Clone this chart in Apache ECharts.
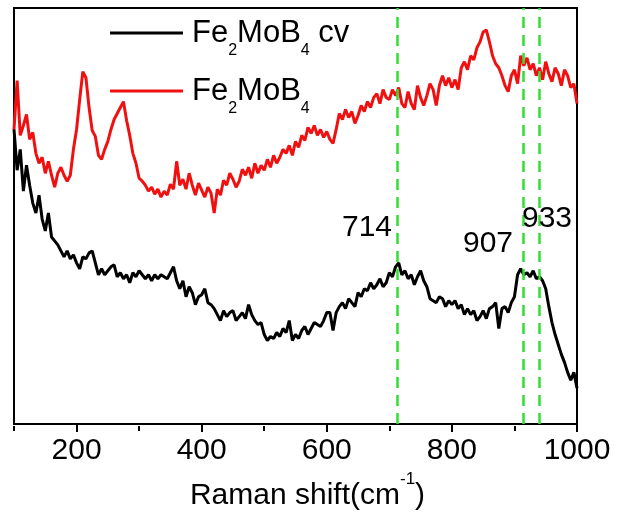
<!DOCTYPE html>
<html><head><meta charset="utf-8">
<script src="https://cdn.jsdelivr.net/npm/echarts@6/dist/echarts.min.js"></script>
<style>html,body{margin:0;padding:0;background:#fff}#c{width:617px;height:516px}</style>
</head><body><div id="c"></div>
<script>
const ramanShift = [
100,105,110,115,120,125,130,135,140,145,
150,155,160,165,170,175,180,185,190,195,
200,205,210,215,220,225,230,235,240,245,
250,255,260,265,270,275,280,285,290,295,
300,305,310,315,320,325,330,335,340,345,
350,355,360,365,370,375,380,385,390,395,
400,405,410,415,420,425,430,435,440,445,
450,455,460,465,470,475,480,485,490,495,
500,505,510,515,520,525,530,535,540,545,
550,555,560,565,570,575,580,585,590,595,
600,605,610,615,620,625,630,635,640,645,
650,655,660,665,670,675,680,685,690,695,
700,705,710,715,720,725,730,735,740,745,
750,755,760,765,770,775,780,785,790,795,
800,805,810,815,820,825,830,835,840,845,
850,855,860,865,870,875,880,885,890,895,
900,905,910,915,920,925,930,935,940,945,
950,955,960,965,970,975,980,985,990,995,
1000];
const intensityFe2MoB4 = [
296,345,290,300,311,286,293,272,262,268,
252,264,250,238,252,258,250,244,250,276,
296,326,354,348,318,295,289,270,266,276,
284,296,306,312,318,324,305,290,272,262,
247,244,240,234,238,231,236,228,234,230,
241,236,264,240,246,236,252,240,230,242,
235,228,238,232,212,236,230,245,240,252,
246,238,244,256,250,258,247,262,252,260,
255,266,258,270,262,268,276,272,280,270,
284,278,290,285,298,292,300,290,296,288,
294,286,282,296,312,306,316,308,314,302,
310,320,314,324,318,328,332,322,336,328,
326,336,330,338,322,318,334,322,316,340,
328,320,330,342,336,320,340,350,340,348,
338,346,336,358,364,356,370,366,378,384,
394,396,384,370,362,358,350,340,334,350,
356,342,370,360,368,356,362,350,358,346,
364,352,344,358,352,340,356,350,338,342,
322];
const intensityFe2MoB4cv = [
296,255,276,234,260,240,222,212,230,206,
194,212,188,184,180,174,168,174,166,170,
162,156,168,166,172,174,162,150,156,150,
154,158,160,148,152,146,150,142,152,148,
154,150,146,150,144,150,146,150,148,146,
152,158,144,136,144,128,138,132,120,128,
130,136,122,120,116,110,104,114,108,112,
114,104,108,112,106,120,110,104,100,102,
90,84,88,86,92,88,96,92,104,84,
90,86,94,98,90,96,102,100,98,104,
112,112,94,112,118,122,116,126,122,118,
132,128,136,134,142,136,140,146,138,142,
152,148,158,162,150,154,146,150,140,148,
154,144,138,126,124,122,128,126,118,124,
120,124,116,120,110,116,110,114,104,108,
114,106,116,118,122,96,116,118,112,122,
128,150,156,150,152,148,154,146,148,144,
136,118,102,90,80,70,62,52,44,52,
36];
const seriesNames = ['Fe2MoB4 cv', 'Fe2MoB4'];
const majorTicks = [200, 400, 600, 800, 1000];
const minorTicks = [100, 300, 500, 700, 900];
const peakLines = [712, 914, 939];
const peakLabels = ['714', '907', '933'];
const axisTitle = '{m|Raman shift(cm}{p|-1}{m|)}';

const FONT = '"Liberation Sans", Arial, sans-serif';
const zip = (xs, ys) => xs.map((x, i) => [x, ys[i]]);
const chart = echarts.init(document.getElementById('c'), null, {renderer: 'canvas'});
const labelPos = [[367, 228], [488, 244], [547, 219]];

chart.setOption({
  animation: false,
  backgroundColor: '#fff',
  grid: [
    {left: 14, right: 40, top: 8, bottom: 90, show: true, borderColor: '#000', borderWidth: 2, backgroundColor: 'transparent'},
    {left: 14, right: 40, top: 8, bottom: 90, show: false}
  ],
  legend: {
    data: seriesNames, orient: 'vertical', left: 110, top: 16, padding: 0,
    itemWidth: 73, itemHeight: 3, itemGap: 15, icon: 'rect',
    formatter: n => n.replace(/(\d)/g, '{s|$1}'),
    textStyle: {
      fontFamily: FONT, fontSize: 31, color: '#000', lineHeight: 34, padding: [0, 0, 0, 4],
      rich: {s: {fontFamily: FONT, fontSize: 16, color: '#000', lineHeight: 34, verticalAlign: 'top', padding: [27, 0, 0, 0]}}
    }
  },
  xAxis: [
    {
      type: 'value', gridIndex: 0, min: 100, max: 1000, position: 'bottom',
      axisLine: {lineStyle: {color: '#000', width: 2}},
      axisTick: {customValues: majorTicks, length: 8, inside: false, lineStyle: {color: '#000', width: 2}},
      axisLabel: {customValues: majorTicks, margin: 12, fontSize: 30, lineHeight: 30, fontFamily: FONT, color: '#000',
                  formatter: v => String(v)},
      splitLine: {show: false},
      name: axisTitle, nameLocation: 'middle', nameGap: 40,
      nameTextStyle: {
        padding: [0, 0, 0, 24],
        rich: {
          m: {fontFamily: FONT, fontSize: 30, color: '#000', lineHeight: 32, verticalAlign: 'bottom'},
          p: {fontFamily: FONT, fontSize: 17, color: '#000', lineHeight: 40, verticalAlign: 'top'}
        }
      }
    },
    {
      type: 'value', gridIndex: 1, min: 100, max: 1000, position: 'bottom',
      axisLine: {show: false},
      axisTick: {customValues: minorTicks, length: 5, inside: false, lineStyle: {color: '#000', width: 2}},
      axisLabel: {show: false}, splitLine: {show: false}
    }
  ],
  yAxis: [
    {type: 'value', gridIndex: 0, min: 0, max: 418, axisLine: {show: true, lineStyle: {color: '#000', width: 2}},
     axisTick: {show: false}, axisLabel: {show: false}, splitLine: {show: false}},
    {type: 'value', gridIndex: 1, min: 0, max: 418, show: false}
  ],
  graphic: peakLabels.map((t, i) => ({
    type: 'text', x: labelPos[i][0], y: labelPos[i][1], z: 10,
    style: {text: t, fontSize: 30, fontFamily: FONT, fill: '#000', align: 'center', verticalAlign: 'middle'}
  })),
  series: [
    {
      name: seriesNames[0], type: 'line', xAxisIndex: 0, yAxisIndex: 0, showSymbol: false, symbol: 'none',
      data: zip(ramanShift, intensityFe2MoB4cv), color: '#000',
      lineStyle: {color: '#000', width: 3}
    },
    {
      name: seriesNames[1], type: 'line', xAxisIndex: 0, yAxisIndex: 0, showSymbol: false, symbol: 'none',
      data: zip(ramanShift, intensityFe2MoB4), color: '#f01010',
      lineStyle: {color: '#f01010', width: 3},
      markLine: {
        silent: true, symbol: ['none', 'none'], label: {show: false},
        lineStyle: {color: '#33dd33', width: 2.5, type: [11, 7]},
        data: peakLines.map(v => ({xAxis: v}))
      }
    }
  ]
});
</script></body></html>
